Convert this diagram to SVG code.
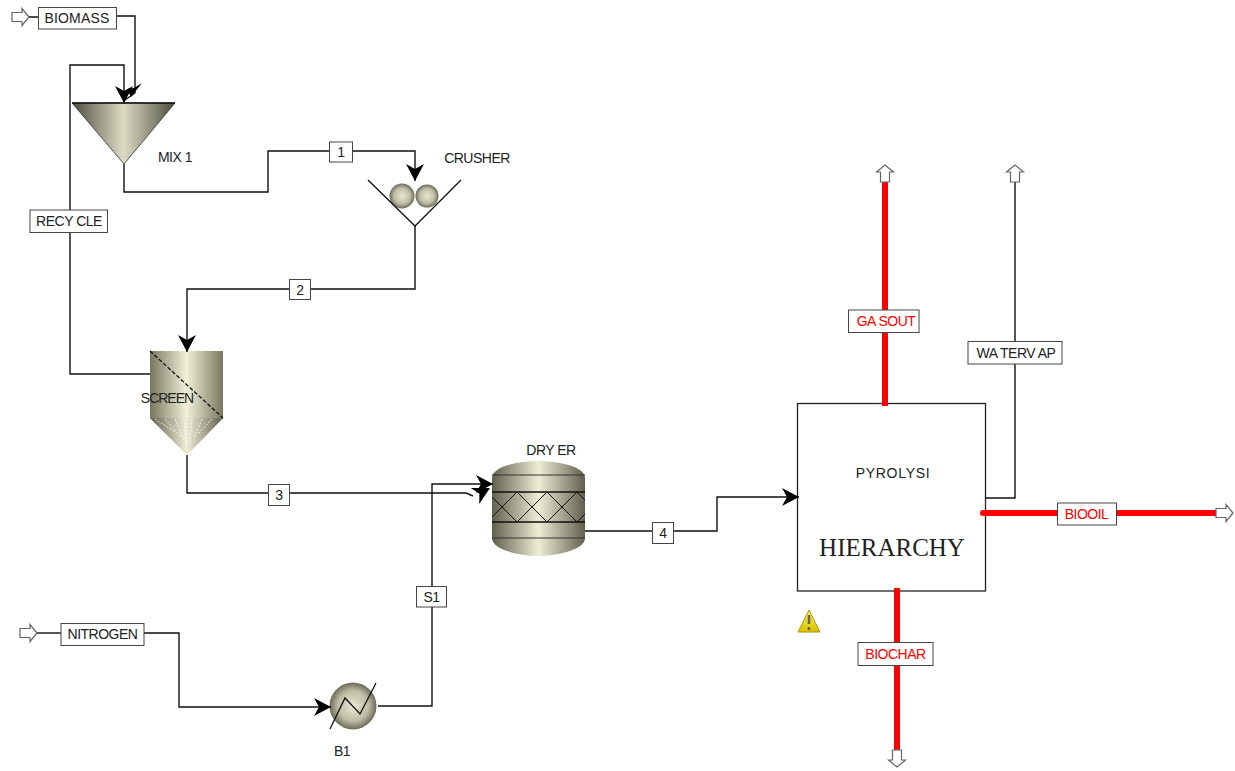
<svg xmlns="http://www.w3.org/2000/svg" width="1235" height="771" viewBox="0 0 1235 771">
<style>
text{font-family:"Liberation Sans",Arial,sans-serif;font-size:14px;fill:#222;text-anchor:middle;letter-spacing:-.5px}
.lb{fill:#fff;stroke:#444;stroke-width:1}
.red{fill:#f00}
.s{fill:none;stroke:#111;stroke-width:1.4}
.ar{marker-end:url(#ch)}
.r{fill:none;stroke:#f00;stroke-width:6}
.pt{fill:#fff;stroke:#666;stroke-width:1.2}
.k{fill:none;stroke:#111;stroke-width:1.3}
</style>
<defs>
<marker id="ch" markerUnits="userSpaceOnUse" markerWidth="24" markerHeight="24" refX="18" refY="12" orient="auto"><path d="M1,3 L18,12 L1,21 L6,12 Z" fill="#000"/></marker>
<linearGradient id="g1"><stop offset="0" stop-color="#4c4c3e"/><stop offset=".5" stop-color="#dcdcc4"/><stop offset="1" stop-color="#4c4c3e"/></linearGradient>
<linearGradient id="g2"><stop offset="0" stop-color="#77775f"/><stop offset=".5" stop-color="#f2f2da"/><stop offset="1" stop-color="#77775f"/></linearGradient>
<linearGradient id="g3"><stop offset="0" stop-color="#5f5f4d"/><stop offset=".5" stop-color="#eeeed6"/><stop offset="1" stop-color="#5f5f4d"/></linearGradient>
<linearGradient id="gy" x1="0" y1="0" x2="0" y2="1"><stop offset="0" stop-color="#fff050"/><stop offset="1" stop-color="#d8c000"/></linearGradient>
<radialGradient id="g4"><stop offset="0" stop-color="#e8e8d2"/><stop offset=".65" stop-color="#bdbda5"/><stop offset="1" stop-color="#6a6a58"/></radialGradient>
<path id="pa" d="M0,-4.500 H10 V-8.500 L17,0 L10,8.500 V4.500 H0 Z"/>
</defs>
<g id="MIX1">
<path d="M72,103H175L124,164Z" fill="url(#g1)" stroke="#333" stroke-width=".8"/><path d="M72,103H175" stroke="#111" stroke-width="1.500"/>
<text x="175" y="162">MIX 1</text>
</g>
<g id="CRUSHER">
<circle cx="402" cy="196" r="12.500" fill="url(#g4)"/><circle cx="427" cy="196" r="11.500" fill="url(#g4)"/>
<path class="k" d="M368,180L415,226L461,180"/>
<text x="477" y="163">CRUSHER</text>
</g>
<g id="SCREEN">
<path d="M150,351H223V418L187,455L150,418Z" fill="url(#g2)"/>
<path d="M150,418H223L187,455Z" fill="url(#g3)"/>
<path d="M155,419L175,432M165,419L180,436M175,419L184,440M184,419L186,445M192,419L190,442M202,419L194,438M212,419L198,434" stroke="#fff" stroke-width="1" stroke-dasharray="2 1.500" opacity=".8"/>
<path d="M150,351L223,418" stroke="#111" stroke-width="1.300" stroke-dasharray="4 2"/>
<text x="167" y="403" style="letter-spacing:-1px">SCREEN</text>
</g>
<g id="DRYER">
<path d="M492,478C492,466 520,461 538,461C556,461 585,466 585,478V538C585,550 556,556 538,556C520,556 492,550 492,538Z" fill="url(#g3)"/>
<path d="M492,475H585M492,538H585" stroke="#333" stroke-width="1"/>
<path d="M492,492H585M492,522H585" stroke="#111" stroke-width="1.300"/>
<path d="M492,497L517,522L547,492L577,522L585,514M492,517L517,492L547,522L577,492L585,500" fill="none" stroke="#111" stroke-width="1"/>
<text x="551" y="455">DRY ER</text>
</g>
<g id="B1">
<circle cx="353" cy="706" r="23.500" fill="url(#g4)"/>
<path class="k" d="M330,729L345,698L360,714L376,683"/>
<text x="342" y="756">B1</text>
</g>
<g id="PYROLYSI">
<rect x="797.500" y="403.500" width="188" height="187.500" fill="#fff" stroke="#222" stroke-width="1.300"/>
<text x="893" y="478" style="letter-spacing:.7px">PYROLYSI</text>
<text x="892" y="556" style="font-family:'Liberation Serif',serif;font-size:25px;letter-spacing:0">HIERARCHY</text>
<path d="M809,610L820,632H798Z" fill="url(#gy)" stroke="#a89610"/>
<path d="M809,615V624M809,627V630" stroke="#665" stroke-width="2.500"/>
</g>
<g id="connectors">
<path class="s" d="M28,17H38M116,16H135V93L125,100"/>
<path d="M127,89 L134,88 L142,83 L131,97 Z" fill="#000"/>
<path class="s ar" d="M150,374H70V65H124V103"/>
<path class="s ar" d="M124,164V192H268V151H415V181"/>
<path class="s ar" d="M415,226V289H187V352"/>
<path class="s" d="M187,455V493H466L473,496"/>
<path d="M-17,-9 L0,0 L-17,9 L-12,0 Z" fill="#000" transform="translate(490,488) rotate(-28)"/>
<path class="s ar" d="M378,706H432V484H493"/>
<path class="s" d="M37,633H61"/>
<path class="s ar" d="M144,633H179V707H331"/>
<path class="s ar" d="M585,531H717V497H799"/>
<path class="s" d="M985,498H1015V182"/>
<path class="r" d="M885,182V406"/>
<path class="r" d="M983,513H1216" stroke-linecap="round"/>
<path class="r" d="M897,588V750"/>
<use href="#pa" class="pt" transform="translate(12,17)"/>
<use href="#pa" class="pt" transform="translate(20,633)"/>
<use href="#pa" class="pt" transform="translate(1216,513)"/>
<use href="#pa" class="pt" transform="translate(885,182) rotate(-90)"/>
<use href="#pa" class="pt" transform="translate(1015,182) rotate(-90)"/>
<use href="#pa" class="pt" transform="translate(897,750) rotate(90)"/>
<g id="stream-labels">
<rect class="lb" x="38.500" y="7.500" width="78" height="21.500"/><text x="77" y="23" style="letter-spacing:.2px">BIOMASS</text>
<rect class="lb" x="30" y="210" width="77.500" height="22.500"/><text x="69" y="226">RECY CLE</text>
<rect class="lb" x="329.500" y="142" width="23" height="20"/><text x="341" y="157">1</text>
<rect class="lb" x="289.500" y="279.500" width="21" height="20"/><text x="300" y="294.500">2</text>
<rect class="lb" x="268.500" y="484.500" width="21" height="21"/><text x="279" y="500">3</text>
<rect class="lb" x="652.500" y="522.500" width="21" height="21"/><text x="663" y="538">4</text>
<rect class="lb" x="416.500" y="586.500" width="30" height="20.500"/><text x="431.500" y="601.500">S1</text>
<rect class="lb" x="61" y="623.500" width="83" height="22"/><text x="102.500" y="639">NITROGEN</text>
<rect class="lb" x="848.500" y="310" width="70.500" height="22.500"/><text class="red" x="886" y="326">GA SOUT</text>
<rect class="lb" x="968" y="341.500" width="94" height="22.500"/><text x="1016" y="357.500">WA TERV AP</text>
<rect class="lb" x="1057.500" y="503" width="59" height="22"/><text class="red" x="1086.500" y="519">BIOOIL</text>
<rect class="lb" x="858" y="642.500" width="75" height="23"/><text class="red" x="895.500" y="659">BIOCHAR</text>
</g>
</g>
</svg>
